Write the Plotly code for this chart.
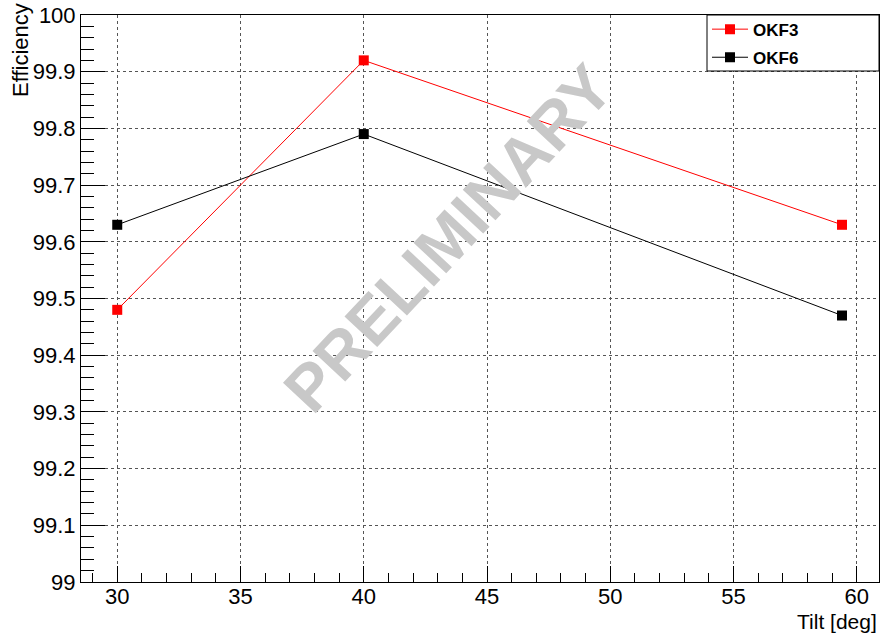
import plotly.graph_objects as go

tilt = [30, 40, 59.4]
okf3 = [99.48, 99.92, 99.63]
okf6 = [99.63, 99.79, 99.47]
series_names = ["OKF3", "OKF6"]
series_colors = ["#ff0000", "#000000"]

fig = go.Figure()
for name, vals, col in zip(series_names, [okf3, okf6], series_colors):
    fig.add_trace(go.Scatter(
        x=tilt, y=vals, mode="lines+markers", name=name, legendgroup=name,
        line=dict(color=col, width=1),
        marker=dict(symbol="square", size=10, color=col),
    ))

font_family = "Liberation Sans, Arial, sans-serif"
axis_common = dict(
    showline=True, linecolor="black", linewidth=1, mirror=True,
    ticks="inside", tickcolor="black", tickwidth=1,
    showgrid=True, gridcolor="#555555", griddash="dot", gridwidth=1,
    zeroline=False,
    tickfont=dict(family=font_family, size=22, color="black"),
)

fig.update_xaxes(range=[28.53, 60.9], dtick=5, tick0=30, ticklen=16,
                 ticklabelstandoff=-5,
                 minor=dict(dtick=1, ticks="inside", ticklen=9, tickcolor="black", showgrid=False),
                 **axis_common)
fig.update_yaxes(range=[99, 100], dtick=0.1, tick0=99, ticklen=24,
                 tickformat="~g",
                 minor=dict(dtick=0.02, ticks="inside", ticklen=13, tickcolor="black", showgrid=False),
                 **axis_common)

# legend frame (paper coords)
leg_x0 = (707 - 81) / 798
leg_y0 = 1 - (71 - 15) / 567

fig.update_layout(
    width=883, height=635,
    margin=dict(l=81, r=4, t=15, b=53),
    plot_bgcolor="white", paper_bgcolor="white",
    font=dict(family=font_family, color="black"),
    legend=dict(
        x=leg_x0, xanchor="left", y=1.006, yanchor="top",
        bgcolor="rgba(0,0,0,0)", borderwidth=0,
        font=dict(family=font_family, size=17, color="black", weight="bold"),
        traceorder="grouped", tracegroupgap=3, itemwidth=36,
    ),
    shapes=[
        dict(type="rect", xref="paper", yref="paper", x0=leg_x0, x1=1, y0=leg_y0, y1=1,
             line=dict(color="black", width=1), fillcolor="white", layer="above"),
    ],
    annotations=[
        dict(text="PRELIMINARY", x=0.46, y=0.605, xref="paper", yref="paper",
             showarrow=False, textangle=-47,
             font=dict(family=font_family, size=65, color="#c8c8c8", weight="bold")),
        dict(text="Efficiency", x=-0.075, y=1.025, xref="paper", yref="paper",
             xanchor="center", yanchor="top", showarrow=False, textangle=-90,
             font=dict(family=font_family, size=22, color="black")),
        dict(text="Tilt [deg]", x=1.0, y=-0.069, xref="paper", yref="paper",
             xanchor="right", yanchor="middle", showarrow=False,
             font=dict(family=font_family, size=21, color="black")),
    ],
)

fig.write_html("out.html")
